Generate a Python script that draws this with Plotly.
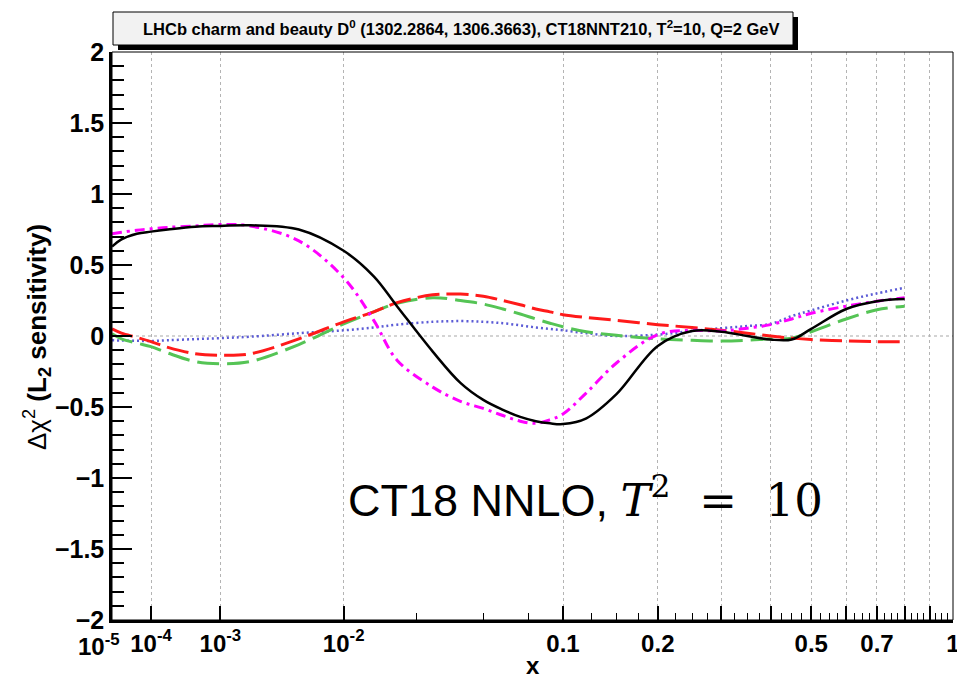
import plotly.graph_objects as go

# Momentum fraction x where the sensitivities are evaluated
x_vals = [1e-5, 2e-5, 5e-5, 1e-4, 2e-4, 5e-4, 1e-3, 2e-3, 5e-3, 0.01, 0.015, 0.02,
          0.03, 0.04, 0.05, 0.06, 0.07, 0.08, 0.09, 0.1, 0.12, 0.15, 0.2, 0.25,
          0.3, 0.35, 0.4, 0.45, 0.5, 0.6, 0.7, 0.8]

# L2 sensitivity curves, one per flavour combination
black_solid = [0.63, 0.68, 0.72, 0.735, 0.75, 0.77, 0.775, 0.78, 0.75, 0.60, 0.42, 0.21,
               -0.11, -0.33, -0.45, -0.52, -0.57, -0.60, -0.615, -0.62, -0.58, -0.41, -0.07, 0.035,
               0.03, 0.0, -0.025, -0.025, 0.05, 0.19, 0.245, 0.26]
magenta_dashdot = [0.72, 0.73, 0.745, 0.755, 0.765, 0.775, 0.785, 0.775, 0.67, 0.41, 0.11, -0.17,
                   -0.36, -0.46, -0.51, -0.56, -0.60, -0.615, -0.59, -0.55, -0.40, -0.19, 0.01, 0.04,
                   0.035, 0.055, 0.08, 0.12, 0.16, 0.21, 0.245, 0.27]
red_dash = [0.05, 0.02, -0.01, -0.04, -0.08, -0.125, -0.135, -0.125, -0.02, 0.10, 0.17, 0.235,
            0.29, 0.295, 0.28, 0.25, 0.22, 0.19, 0.17, 0.15, 0.13, 0.11, 0.08, 0.06,
            0.04, 0.02, 0.0, -0.015, -0.025, -0.035, -0.04, -0.04]
green_dash = [0.015, -0.02, -0.05, -0.075, -0.12, -0.18, -0.195, -0.18, -0.06, 0.085, 0.17, 0.23,
              0.27, 0.25, 0.225, 0.19, 0.155, 0.12, 0.09, 0.065, 0.03, 0.005, -0.02, -0.03,
              -0.035, -0.03, -0.02, -0.015, 0.03, 0.12, 0.185, 0.21]
blue_dot = [-0.03, -0.032, -0.034, -0.035, -0.03, -0.022, -0.015, -0.005, 0.02, 0.04, 0.06, 0.08,
            0.10, 0.105, 0.10, 0.09, 0.075, 0.06, 0.05, 0.04, 0.02, 0.0, 0.01, 0.035,
            0.055, 0.07, 0.085, 0.14, 0.18, 0.25, 0.30, 0.34]

# Axis ticks (the 1e-5 label sits left of its tick, drawn separately)
major_ticks = [1e-5, 1e-4, 1e-3, 1e-2, 0.1, 0.2, 0.3, 0.4, 0.5, 0.6, 0.7, 0.8, 0.9, 1.0]
major_labels = ["", "10<sup>-4</sup>", "10<sup>-3</sup>",
                "10<sup>-2</sup>", "0.1", "0.2", "", "", "0.5", "", "0.7", "", "", "1"]
first_label = "10<sup>-5</sup>"
minor_ticks = [0.025 * k for k in range(1, 40) if k % 4 != 0]

# The x axis is linear in x^(1/4)
POWER = 0.25


def u(v):
    return v ** POWER


xs = [u(v) for v in x_vals]

fig = go.Figure()
series = [
    (blue_dot, "#5b5bd6", "2px,3px", 2.5),
    (green_dash, "#55c455", "22px,8px", 3),
    (red_dash, "#ff1a1a", "22px,7px", 3),
    (magenta_dashdot, "#ff00ff", "10px,5px,3px,5px", 3),
    (black_solid, "#000000", "solid", 2.5),
]
for ys, color, dash, width in series:
    fig.add_trace(go.Scatter(x=xs, y=ys, mode="lines",
                             line=dict(color=color, width=width, dash=dash, shape="spline"),
                             showlegend=False, hoverinfo="skip"))

fig.update_layout(
    width=957, height=678,
    margin=dict(l=112, r=4, t=52, b=58),
    plot_bgcolor="white", paper_bgcolor="white",
    font=dict(family="Liberation Sans, Arial, sans-serif", color="black"),
)

tick_font = dict(size=24, weight="bold")

fig.update_xaxes(
    range=[u(1e-5), 1.0], automargin=False,
    tickmode="array", tickvals=[u(v) for v in major_ticks], ticktext=major_labels,
    tickangle=0, ticklabeloverflow="allow",
    ticks="inside", ticklen=14, tickwidth=1.5, tickcolor="black",
    tickfont=tick_font,
    showgrid=True, gridcolor="#b4b4b4", griddash="dot", gridwidth=1,
    showline=True, linecolor="black", linewidth=2.5,
    zeroline=False,
    minor=dict(tickmode="array", tickvals=[u(v) for v in minor_ticks],
               ticks="inside", ticklen=7, tickwidth=1.2, tickcolor="black", showgrid=False),
)

fig.update_yaxes(
    range=[-2, 2], automargin=False, tickmode="linear", tick0=0, dtick=0.5,
    ticks="inside", ticklen=20, tickwidth=1.5, tickcolor="black",
    tickfont=dict(size=25, weight="bold"),
    showgrid=False, zeroline=False,
    showline=True, linecolor="black", linewidth=2.5,
    minor=dict(dtick=0.1, ticks="inside", ticklen=12, tickwidth=1.5, tickcolor="black", showgrid=False),
)

shapes = [
    # dotted reference line at zero
    dict(type="line", xref="paper", yref="y", x0=0, x1=1, y0=0, y1=0,
         line=dict(color="#a8a8a8", width=1.2, dash="dot"), layer="below"),
    # thin frame on top and right
    dict(type="rect", xref="paper", yref="paper", x0=0, x1=1, y0=0, y1=1,
         line=dict(color="black", width=1)),
    # title box shadow
    dict(type="rect", xref="paper", yref="paper", xsizemode="pixel", ysizemode="pixel",
         xanchor=0, yanchor=1, x0=6, x1=686, y0=2, y1=35,
         fillcolor="black", line=dict(width=0)),
    # title box
    dict(type="rect", xref="paper", yref="paper", xsizemode="pixel", ysizemode="pixel",
         xanchor=0, yanchor=1, x0=1, x1=681, y0=7, y1=40,
         fillcolor="#f2f2f2", line=dict(color="black", width=1)),
]
fig.update_layout(shapes=shapes)

annotations = [
    dict(text=first_label, xref="x", yref="paper", x=u(1e-5), y=0,
         xanchor="center", yanchor="top", yshift=-8, xshift=-13,
         showarrow=False, font=tick_font),
    dict(text="<b>LHCb charm and beauty D<sup>0</sup> (1302.2864, 1306.3663), CT18NNT210, "
              "T<sup>2</sup>=10, Q=2 GeV</b>",
         xref="paper", yref="paper", x=(461 - 112) / 841, y=(620 - 28) / 568,
         xanchor="center", yanchor="middle", showarrow=False, font=dict(size=16.5)),
    dict(text="Δχ<sup>2</sup> <b>(L<sub>2</sub> sensitivity)</b>",
         xref="paper", yref="paper", x=(37 - 112) / 841, y=(620 - 337) / 568,
         xanchor="center", yanchor="middle", textangle=-90, showarrow=False,
         font=dict(size=26)),
    dict(text="<b>x</b>", xref="paper", yref="paper", x=(533 - 112) / 841, y=(620 - 665) / 568,
         xanchor="center", yanchor="middle", showarrow=False, font=dict(size=24)),
    dict(text="CT18 NNLO, <span style=\"font-family:'DejaVu Serif'\"><i>T</i><sup>2</sup>"
              "\u00a0\u00a0=\u00a0\u00a010</span>",
         xref="paper", yref="paper", x=(585 - 112) / 841, y=(620 - 497) / 568,
         xanchor="center", yanchor="middle", showarrow=False, font=dict(size=45)),
]
fig.update_layout(annotations=annotations)

fig.write_html("out.html")
